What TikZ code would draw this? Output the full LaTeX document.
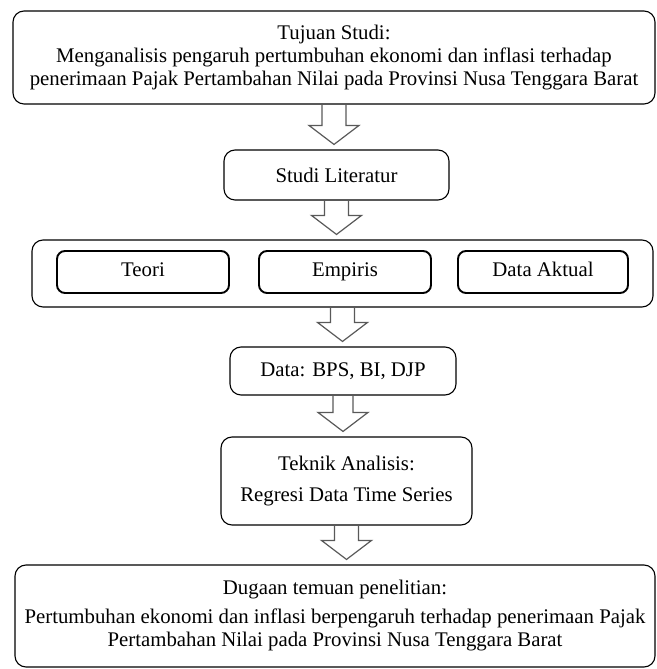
\documentclass[tikz,border=0pt]{standalone}
\usepackage{fontspec}
\setmainfont{Liberation Serif}
\usetikzlibrary{calc}
\tikzset{
  box/.style={draw=black, line width=1.1pt, rounded corners=11pt, align=center, inner sep=0pt, font=\fsz},
  ibox/.style={draw=black, line width=1.9pt, rounded corners=8pt, align=center, inner sep=0pt, font=\fsz, text height=14pt, text depth=5pt},
  blockarrow/.style={draw=black!65, line width=1.2pt, line join=miter}
}
\newcommand{\fsz}{\fontsize{20.8}{23}\selectfont}
\newcommand{\flowarrow}[3]{%
  \draw[blockarrow] let \p1=(#1.south), \p2=(#2.north) in
    ($(\x1,\y1)+(-#3,0)$) -- ($(\x1,\y2)+(-#3,24pt)$) -- ($(\x1,\y2)+(-25pt,24pt)$)
    -- ($(\x1,\y2)+(0,5pt)$) -- ($(\x1,\y2)+(25pt,24pt)$) -- ($(\x1,\y2)+(#3,24pt)$)
    -- ($(\x1,\y1)+(#3,0)$);}
\begin{document}
\begin{tikzpicture}[x=1pt,y=1pt]
\useasboundingbox (0,0) rectangle (656,669);
\node[box, minimum width=642pt, minimum height=93pt] (tujuan) at (334,611.5)
  {Tujuan Studi:\\Menganalisis pengaruh pertumbuhan ekonomi dan inflasi terhadap\\penerimaan Pajak Pertambahan Nilai pada Provinsi Nusa Tenggara Barat};
\node[box, minimum width=225pt, minimum height=50pt] (studi) at (336.5,494) {Studi Literatur};
\node[box, minimum width=621pt, minimum height=67pt] (kajian) at (342.5,395.5) {};
\node[ibox, minimum width=172pt, minimum height=42pt] (teori) at (143,397) {Teori};
\node[ibox, minimum width=172pt, minimum height=42pt] (empiris) at (345,397) {Empiris};
\node[ibox, minimum width=170pt, minimum height=42pt] (aktual) at (543,397) {Data Aktual};
\node[box, minimum width=226pt, minimum height=48pt] (data) at (343,298) {Data: BPS, BI, DJP};
\node[box, minimum width=251pt, minimum height=88pt] (teknik) at (346.5,188)
  {Teknik Analisis:\\[8pt]Regresi Data Time Series};
\node[box, minimum width=640pt, minimum height=102pt] (dugaan) at (335,53)
  {Dugaan temuan penelitian:\\[6pt]Pertumbuhan ekonomi dan inflasi berpengaruh terhadap penerimaan Pajak\\Pertambahan Nilai pada Provinsi Nusa Tenggara Barat};
\flowarrow{tujuan}{studi}{12pt}
\flowarrow{studi}{kajian}{12pt}
\flowarrow{kajian}{data}{12pt}
\flowarrow{data}{teknik}{10pt}
\flowarrow{teknik}{dugaan}{12pt}
\end{tikzpicture}
\end{document}
